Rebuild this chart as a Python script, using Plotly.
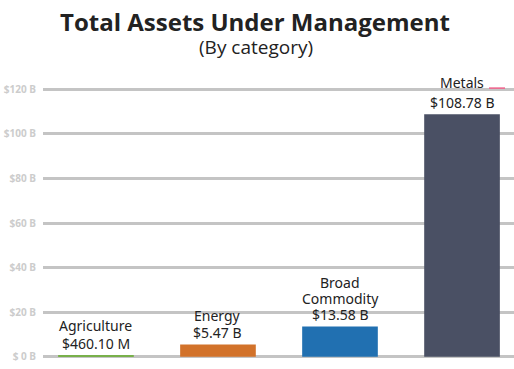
import plotly.graph_objects as go

categories = ["Agriculture", "Energy", "Broad Commodity", "Metals"]
label_lines = [["Agriculture"], ["Energy"], ["Broad", "Commodity"], ["Metals"]]
values = [0.4601, 5.47, 13.58, 108.78]
value_labels = ["$460.10 M", "$5.47 B", "$13.58 B", "$108.78 B"]
colors = ["#78b04a", "#d2722a", "#2170b1", "#4a5064"]
tick_vals = [0, 20, 40, 60, 80, 100, 120]
tick_text = ["$ 0 B", "$20 B", "$40 B", "$60 B", "$80 B", "$100 B", "$120 B"]

fig = go.Figure()
fig.add_trace(go.Bar(
    x=categories, y=values, marker=dict(color=colors, line=dict(width=0)),
    width=0.62, hoverinfo="skip", cliponaxis=False,
))

name_gap = [18, 17, 16, 20]
annotations = []
for cat, lines, v, vl, g in zip(categories, label_lines, values, value_labels, name_gap):
    annotations.append(dict(x=cat, y=v, xref="x", yref="y", text=vl, showarrow=False,
                            yanchor="middle", yshift=12,
                            font=dict(family="Noto Sans", size=14, color="#222222")))
    for k, line in enumerate(reversed(lines)):
        annotations.append(dict(x=cat, y=v, xref="x", yref="y", text=line, showarrow=False,
                                yanchor="middle", yshift=12 + g + 16 * k,
                                font=dict(family="Noto Sans", size=14, color="#222222")))

annotations.append(dict(x=(256 - 43) / 471, y=1 + (87 - 47) / 272, xref="paper", yref="paper",
                        text="(By category)", showarrow=False, yanchor="middle",
                        font=dict(family="Open Sans", size=19, color="#222222")))

fig.update_layout(
    width=514, height=369,
    margin=dict(l=43, r=0, t=87, b=10, autoexpand=False),
    paper_bgcolor="white", plot_bgcolor="white",
    showlegend=False,
    title=dict(text="<b>Total Assets Under Management</b>", x=255 / 514, xref="container",
               y=1 - 23 / 369, yref="container", xanchor="center", yanchor="middle",
               font=dict(family="Open Sans", size=24, color="#222222")),
    xaxis=dict(range=[-0.434, 3.426], showticklabels=False, showgrid=False,
               zeroline=False, showline=False, ticks=""),
    yaxis=dict(range=[-1, 121], tickvals=tick_vals, ticktext=tick_text,
               showgrid=True, gridcolor="#c4c4c4", gridwidth=2.5,
               zeroline=True, zerolinecolor="#c4c4c4", zerolinewidth=2.5,
               showline=False, ticks="", ticklabelstandoff=6,
               tickfont=dict(family="Open Sans", size=10, color="#cccccc", weight="bold")),
    shapes=[dict(type="line", xref="paper", yref="y", x0=(489 - 43) / 471, x1=(505 - 43) / 471,
                 y0=120.5, y1=120.5, line=dict(color="#f0608a", width=1.5))],
    annotations=annotations,
)

fig.write_html("out.html", config={"displayModeBar": False},
               post_script="document.body.style.margin='0';document.body.style.overflow='hidden';")
